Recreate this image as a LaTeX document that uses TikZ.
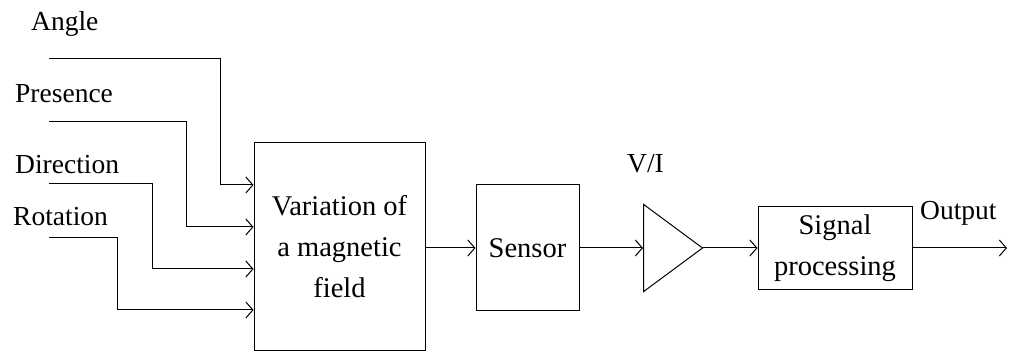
\documentclass[tikz,border=0pt]{standalone}
\usepackage{fontspec}
\setmainfont{Liberation Serif}
\usetikzlibrary{arrows.meta,positioning,shapes.geometric}
\tikzset{
  block/.style={
    draw, line width=1pt, inner sep=0pt, align=center,
    font=\fontsize{28.5}{41}\selectfont
  },
  tag/.style={font=\fontsize{27.5}{33}\selectfont, inner sep=0pt},
  arrow/.style={-{Straight Barb[length=7pt,width=16pt]}, line width=1pt},
}

\begin{document}
\begin{tikzpicture}[x=1pt,y=-1pt]
    \useasboundingbox (0,0) rectangle (1010,352);
    \node[block, minimum width=171pt, minimum height=208pt] (var) at (339.5,247) {Variation of\\a magnetic\\field};
    \node[block, minimum width=103pt, minimum height=126pt] (sens) at (527.5,248) {Sensor};
    \node[draw, line width=1pt, isosceles triangle, isosceles triangle apex angle=73,
          minimum height=59pt, minimum width=87pt, inner sep=0pt, anchor=lower side] (amp) at (643,248) {};
    \node[block, minimum width=154pt, minimum height=83pt] (sig) at (835,248) {Signal\\processing};
    % inputs
    \node[tag, anchor=base west] (angle) at (31,31) {Angle};
    \node[tag, anchor=base west] (pres) at (15,103) {Presence};
    \node[tag, anchor=base west] (dir) at (15,174) {Direction};
    \node[tag, anchor=base west] (rot) at (13,226) {Rotation};
    \coordinate (in1) at (49,59);
    \coordinate (in2) at (49,122);
    \coordinate (in3) at (49,184);
    \coordinate (in4) at (49,238);
    \draw[arrow] (in1) -| (220,185) coordinate (k1) -- (k1 -| var.west);
    \draw[arrow] (in2) -| (186,227) coordinate (k2) -- (k2 -| var.west);
    \draw[arrow] (in3) -| (152,269) coordinate (k3) -- (k3 -| var.west);
    \draw[arrow] (in4) -| (117,310) coordinate (k4) -- (k4 -| var.west);
    % chain
    \draw[arrow] (var.east |- sens) -- (sens);
    \draw[arrow] (sens) -- (amp.lower side);
    \draw[arrow] (amp.apex) -- (sig);
    \node[tag, anchor=base west] (vi) at (627,173) {V/I};
    \node[tag, anchor=base west] (outl) at (920,220) {Output};
    \coordinate (out) at (1007,248);
    \draw[arrow] (sig) -- (out);
\end{tikzpicture}
\end{document}
